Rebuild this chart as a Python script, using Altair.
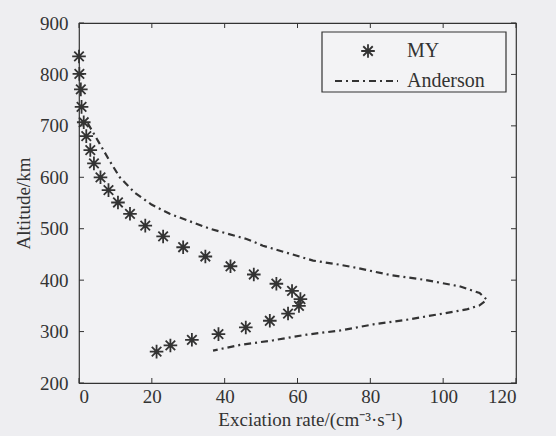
import altair as alt
import pandas as pd

# MY data (excitation rate, altitude)
my_rate = [0, 0.1, 0.5, 0.7, 1.3, 2.0, 3.1, 4.1, 5.9, 8.1, 10.7, 14.0, 18.2, 23.1, 28.6, 34.7,
           41.6, 48.0, 54.2, 58.5, 60.8, 60.4, 57.4, 52.4, 45.8, 38.3, 31.0, 25.1, 21.3]
my_alt = [835, 801, 771, 737, 707, 680, 653, 627, 600, 575, 551, 529, 506, 485, 464, 446,
          427, 411, 393, 379, 363, 350, 335, 321, 308, 295, 284, 273, 261]

# Anderson curve
and_rate = [2.4, 5.7, 8.4, 11.2, 15.3, 19.9, 24.9, 35.9, 46.0, 50.5, 64.3, 71.6, 76.2, 85.4,
            94.5, 104.5, 110.0, 112.0, 110.0, 106.4, 99.1, 90.0, 80.8, 71.6, 62.5, 53.3, 44.2, 36.8]
and_alt = [705, 665, 632, 600, 570, 547, 529, 500, 480, 467, 438, 430, 424, 410,
           401, 388, 375, 362, 351, 343, 334, 323, 314, 302, 294, 283, 274, 263]

x_ticks = [0, 20, 40, 60, 80, 100, 120]
y_ticks = [200, 300, 400, 500, 600, 700, 800, 900]

W, H = 437, 360
INK = "#333333"
FONT = "Liberation Serif"

my_df = pd.DataFrame({"rate": my_rate, "alt": my_alt})
and_df = pd.DataFrame({"rate": and_rate, "alt": and_alt, "i": list(range(len(and_rate)))})
xt_df = pd.DataFrame({"rate": x_ticks})
yt_df = pd.DataFrame({"alt": y_ticks})
one = pd.DataFrame({"a": [0]})

xs = alt.Scale(domain=[0, 120], nice=False, zero=False)
ys = alt.Scale(domain=[200, 900], nice=False, zero=False)

common = dict(ticks=False, domain=False, grid=False, labelFont=FONT, titleFont=FONT,
              labelFontSize=19, titleFontSize=19, labelColor=INK, titleColor=INK,
              titleFontWeight="normal", format="d")
x_axis = alt.Axis(values=x_ticks, title="Exciation rate/(cm⁻³·s⁻¹)",
                  labelPadding=4, titlePadding=4, titleX=231, **common)
y_axis = alt.Axis(values=y_ticks, title="Altitude/km",
                  labelPadding=11, titlePadding=6, **common)

X = alt.X("rate:Q", scale=xs, axis=x_axis)
Y = alt.Y("alt:Q", scale=ys, axis=y_axis)

star = "M-1,0L1,0M0,-1L0,1M-0.7,-0.7L0.7,0.7M-0.7,0.7L0.7,-0.7"

anderson = alt.Chart(and_df).mark_line(
    color=INK, strokeWidth=2.2, strokeDash=[7, 4, 2, 4]
).encode(x=X, y=Y, order="i:Q")

my = alt.Chart(my_df).mark_point(
    shape=star, size=185, filled=False, stroke=INK, strokeWidth=1.8, opacity=1
).encode(x=X, y=Y)

tick_len = 5
xt_bot = alt.Chart(xt_df).mark_rule(color=INK, strokeWidth=1).encode(
    x=X, y=alt.value(H), y2=alt.value(H - tick_len))
xt_top = alt.Chart(xt_df).mark_rule(color=INK, strokeWidth=1).encode(
    x=X, y=alt.value(0), y2=alt.value(tick_len))
yt_left = alt.Chart(yt_df).mark_rule(color=INK, strokeWidth=1).encode(
    y=Y, x=alt.value(0), x2=alt.value(tick_len))
yt_right = alt.Chart(yt_df).mark_rule(color=INK, strokeWidth=1).encode(
    y=Y, x=alt.value(W), x2=alt.value(W - tick_len))

# legend
leg_box = alt.Chart(one).mark_rect(fill="#f3f3f5", stroke=INK, strokeWidth=1.2).encode(
    x=alt.value(243), x2=alt.value(427), y=alt.value(9), y2=alt.value(69))
leg_star = alt.Chart(one).mark_point(
    shape=star, size=185, filled=False, stroke=INK, strokeWidth=1.8, opacity=1
).encode(x=alt.value(289), y=alt.value(28))
leg_line = alt.Chart(one).mark_rule(color=INK, strokeWidth=2.2, strokeDash=[7, 4, 2, 4]).encode(
    x=alt.value(256), x2=alt.value(319), y=alt.value(58))
leg_t1 = alt.Chart(one).mark_text(align="left", baseline="middle", font=FONT, fontSize=20, color=INK).encode(
    x=alt.value(328), y=alt.value(28), text=alt.value("MY"))
leg_t2 = alt.Chart(one).mark_text(align="left", baseline="middle", font=FONT, fontSize=20, color=INK).encode(
    x=alt.value(328), y=alt.value(58), text=alt.value("Anderson"))

chart = alt.layer(
    anderson, my, xt_bot, xt_top, yt_left, yt_right,
    leg_box, leg_star, leg_line, leg_t1, leg_t2
).properties(
    width=W, height=H,
    autosize=alt.AutoSizeParams(type="none"),
    padding={"left": 79, "top": 23, "right": 40, "bottom": 53},
    background="#eeeef1",
).configure(
    font=FONT
).configure_view(
    stroke=INK, strokeWidth=1.2, fill="#f2f2f4"
)

chart.save("out.html", embed_options={"renderer": "svg", "actions": False})
